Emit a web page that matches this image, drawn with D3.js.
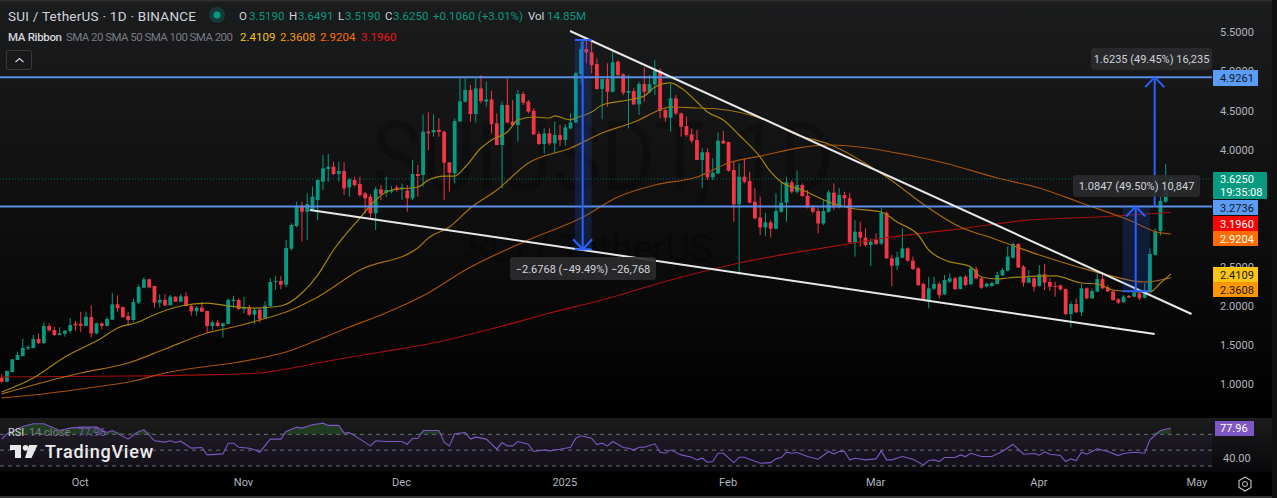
<!DOCTYPE html>
<html><head><meta charset="utf-8">
<script src="https://cdn.jsdelivr.net/npm/d3@7/dist/d3.min.js"></script>
<style>html,body{margin:0;padding:0;background:#000;overflow:hidden}svg{display:block}text{font-family:"Roboto","Liberation Sans",sans-serif}</style>
</head><body><div id="chart"></div>
<script>
// daily candles [open, high, low, close], first one is 2024-09-16
const candlesSep=[[1.083,1.130,1.019,1.032],[1.032,1.177,1.024,1.169],[1.156,1.322,1.152,1.318],[1.309,1.416,1.309,1.373],[1.360,1.582,1.352,1.463],[1.458,1.501,1.437,1.475],[1.463,1.629,1.458,1.578],[1.578,1.650,1.514,1.527],[1.527,1.791,1.514,1.744],[1.744,1.778,1.672,1.689],[1.693,1.736,1.616,1.629],[1.629,1.727,1.629,1.650],[1.646,1.693,1.608,1.684],[1.680,1.846,1.650,1.757],[1.774,1.812,1.684,1.753]];
const candlesOct=[[1.774,1.927,1.667,1.748],[1.744,1.927,1.744,1.863],[1.859,2.008,1.595,1.650],[1.650,1.787,1.638,1.778],[1.778,1.791,1.701,1.744],[1.744,1.863,1.744,1.834],[1.825,2.162,1.821,2.021],[2.021,2.136,1.927,1.974],[1.987,1.991,1.855,1.855],[1.872,1.927,1.748,1.821],[1.821,2.094,1.799,2.051],[2.043,2.277,2.025,2.243],[2.234,2.367,2.226,2.341],[2.341,2.349,2.226,2.239],[2.256,2.260,1.979,2.043],[2.043,2.153,1.979,2.077],[2.077,2.153,2.004,2.008],[2.008,2.141,2.008,2.119],[2.119,2.124,2.055,2.055],[2.055,2.153,2.051,2.124],[2.124,2.175,2.000,2.000],[2.000,2.013,1.876,1.932],[1.932,2.000,1.876,1.979],[1.979,2.051,1.923,1.927],[1.936,1.940,1.650,1.744],[1.744,1.812,1.693,1.791],[1.791,1.821,1.736,1.744],[1.744,1.787,1.595,1.778],[1.770,2.098,1.770,2.077],[2.064,2.132,1.970,2.081],[2.077,2.098,1.949,1.961]];
const candlesNov=[[1.961,2.111,1.906,1.983],[1.983,2.013,1.872,1.889],[1.889,1.970,1.770,1.949],[1.953,1.970,1.787,1.829],[1.838,2.060,1.834,2.004],[2.000,2.354,1.991,2.307],[2.307,2.384,2.204,2.320],[2.320,2.384,2.213,2.273],[2.273,2.844,2.239,2.742],[2.733,3.057,2.708,3.036],[3.023,3.334,3.006,3.279],[3.279,3.334,2.827,3.206],[3.206,3.441,2.844,3.304],[3.236,3.526,3.219,3.398],[3.355,3.620,3.100,3.611],[3.590,3.931,3.483,3.760],[3.752,3.943,3.590,3.781],[3.781,3.845,3.675,3.688],[3.688,3.845,3.590,3.726],[3.726,3.837,3.419,3.504],[3.517,3.632,3.398,3.620],[3.611,3.654,3.526,3.547],[3.560,3.654,3.398,3.419],[3.440,3.462,3.185,3.377],[3.398,3.432,3.099,3.185],[3.185,3.526,2.972,3.492],[3.492,3.547,3.355,3.432],[3.449,3.654,3.398,3.483],[3.462,3.534,3.440,3.483],[3.517,3.547,3.462,3.483]];
const candlesDec=[[3.492,3.568,3.355,3.517],[3.475,3.547,3.206,3.377],[3.377,3.867,3.355,3.688],[3.688,3.803,3.398,3.662],[3.675,4.451,3.526,4.229],[4.229,4.476,3.995,4.208],[4.220,4.451,4.165,4.250],[4.250,4.399,4.165,4.225],[4.229,4.240,3.355,3.832],[3.837,3.840,3.461,3.705],[3.696,4.399,3.568,4.365],[4.361,4.911,4.350,4.617],[4.613,4.911,4.600,4.762],[4.762,4.826,4.357,4.455],[4.455,4.911,4.344,4.783],[4.783,4.954,4.591,4.621],[4.613,4.868,4.549,4.642],[4.642,4.753,4.208,4.327],[4.335,4.463,4.058,4.058],[4.058,4.613,3.504,4.570],[4.570,4.911,4.335,4.348],[4.357,4.634,4.293,4.314],[4.314,4.762,4.101,4.711],[4.711,4.740,4.570,4.600],[4.613,4.634,4.463,4.485],[4.497,4.527,4.186,4.195],[4.199,4.229,4.058,4.071],[4.071,4.271,3.952,4.208],[4.208,4.271,4.058,4.080],[4.080,4.357,3.952,4.186],[4.186,4.314,4.046,4.122]];
const candlesJan=[[4.122,4.327,4.046,4.284],[4.271,4.463,4.259,4.348],[4.348,4.996,4.335,4.975],[4.966,5.380,4.847,5.286],[5.286,5.401,5.103,5.243],[5.243,5.380,4.975,5.081],[5.094,5.167,4.770,4.775],[4.775,4.902,4.387,4.902],[4.902,5.103,4.549,4.740],[4.740,5.252,4.730,5.116],[5.124,5.145,4.911,4.954],[4.962,4.975,4.698,4.728],[4.728,4.954,4.271,4.749],[4.749,4.783,4.570,4.578],[4.578,4.868,4.442,4.838],[4.838,5.052,4.613,4.740],[4.736,4.954,4.719,4.838],[4.834,5.145,4.698,5.009],[5.009,5.039,4.399,4.497],[4.506,4.527,4.357,4.408],[4.408,4.847,4.229,4.655],[4.655,4.698,4.442,4.463],[4.463,4.472,4.165,4.293],[4.301,4.421,4.165,4.186],[4.195,4.271,4.080,4.114],[4.122,4.250,3.867,3.867],[3.867,4.016,3.504,3.965],[3.965,4.016,3.611,3.645],[3.645,3.888,3.611,3.705],[3.696,4.216,3.687,4.114],[4.114,4.237,4.071,4.080]];
const candlesFeb=[[4.097,4.101,3.717,3.730],[3.739,3.845,3.078,3.300],[3.300,3.824,2.396,3.653],[3.653,3.888,3.568,3.589],[3.598,3.717,3.312,3.321],[3.334,3.504,3.108,3.121],[3.133,3.398,2.907,3.005],[3.005,3.193,2.895,3.069],[3.069,3.099,2.877,2.988],[2.988,3.440,2.980,3.214],[3.206,3.577,3.193,3.321],[3.321,3.653,3.078,3.581],[3.581,3.611,3.440,3.461],[3.461,3.730,3.440,3.547],[3.547,3.568,3.398,3.406],[3.410,3.483,3.248,3.261],[3.261,3.291,3.184,3.206],[3.214,3.248,2.929,3.056],[3.056,3.355,3.035,3.214],[3.206,3.483,3.193,3.453],[3.449,3.568,3.227,3.262],[3.262,3.505,3.249,3.419],[3.419,3.462,3.279,3.377],[3.377,3.449,2.810,2.814],[2.814,3.100,2.631,2.950],[2.950,3.078,2.759,2.874],[2.874,2.993,2.759,2.780],[2.780,2.865,2.511,2.822]];
const candlesMar=[[2.844,2.929,2.780,2.793],[2.801,3.249,2.780,3.193],[3.193,3.206,2.601,2.609],[2.609,2.652,2.256,2.516],[2.516,2.695,2.460,2.622],[2.618,2.993,2.609,2.737],[2.737,2.750,2.567,2.580],[2.580,2.631,2.460,2.473],[2.481,2.503,2.256,2.268],[2.281,2.298,2.068,2.076],[2.076,2.375,1.970,2.226],[2.221,2.375,2.204,2.281],[2.281,2.311,2.098,2.140],[2.149,2.396,2.140,2.332],[2.311,2.417,2.298,2.354],[2.354,2.375,2.204,2.217],[2.217,2.383,2.213,2.375],[2.375,2.396,2.256,2.268],[2.277,2.503,2.268,2.481],[2.469,2.503,2.341,2.354],[2.354,2.375,2.217,2.234],[2.247,2.298,2.238,2.285],[2.256,2.311,2.247,2.294],[2.281,2.439,2.277,2.396],[2.392,2.481,2.383,2.460],[2.451,2.758,2.443,2.631],[2.618,2.810,2.609,2.793],[2.793,2.801,2.486,2.494],[2.503,2.524,2.247,2.298],[2.298,2.460,2.290,2.362],[2.354,2.375,2.187,2.247]];
const candlesApr=[[2.256,2.524,2.247,2.405],[2.405,2.537,2.204,2.298],[2.307,2.354,2.196,2.247],[2.256,2.311,2.119,2.247],[2.264,2.273,2.196,2.213],[2.217,2.226,1.885,1.897],[1.897,2.055,1.727,2.025],[2.025,2.098,1.914,1.919],[1.919,2.281,1.872,2.226],[2.226,2.238,2.085,2.098],[2.098,2.226,2.093,2.192],[2.183,2.417,2.175,2.345],[2.345,2.426,2.213,2.226],[2.238,2.268,2.179,2.187],[2.187,2.204,2.068,2.076],[2.085,2.098,2.025,2.042],[2.047,2.140,2.042,2.119],[2.128,2.140,2.102,2.111],[2.119,2.213,2.111,2.170],[2.162,2.183,2.076,2.098],[2.106,2.290,2.098,2.196],[2.183,2.737,2.175,2.665],[2.656,2.993,2.643,2.959],[2.959,3.398,2.899,3.343],[3.334,3.816,3.321,3.505],[3.519,3.6491,3.519,3.625]];

// moving averages, read at the listed candle numbers
const sma20Days=[0,6,12,19,22,26,28,34,39,43,48,53,57,60,63,68,71,74,79,81,84,86,88,91,93,96,98,101,104,105,108,109,112,114,119,122,124,127,129,132,134,137,140,144,146,148,152,157,161,167,170,174,176,179,184,186,189,191,200,205,208,211,216,218,220,222];
const sma20Vals=[0.90,1.079,1.348,1.591,1.719,1.795,1.859,2.000,2.038,2.000,1.974,2.000,2.166,2.396,2.716,3.125,3.356,3.483,3.522,3.611,3.662,3.662,3.778,4.020,4.123,4.225,4.379,4.417,4.404,4.430,4.379,4.404,4.481,4.570,4.634,4.685,4.801,4.852,4.788,4.609,4.481,4.379,4.187,3.905,3.714,3.586,3.483,3.330,3.253,3.202,3.074,2.908,2.716,2.588,2.499,2.371,2.345,2.358,2.384,2.294,2.281,2.205,2.179,2.179,2.294,2.4109];
const sma50Days=[0,6,15,24,31,39,44,49,54,60,68,79,81,85,89,94,100,108,114,121,124,127,132,136,145,151,157,168,176,182,188,197,205,210,217,222];
const sma50Vals=[0.875,0.99,1.143,1.271,1.450,1.655,1.731,1.821,1.923,2.115,2.460,2.742,2.870,3.010,3.253,3.483,3.829,4.020,4.212,4.379,4.481,4.545,4.532,4.519,4.379,4.187,4.072,3.650,3.253,3.010,2.870,2.652,2.486,2.396,2.307,2.3608];
const sma100Days=[0,6,15,25,31,38,44,50,54,60,66,72,81,88,100,110,117,124,132,138,145,151,157,172,179,189,197,205,214,220,222];
const sma100Vals=[0.824,0.862,0.939,1.041,1.143,1.220,1.271,1.348,1.412,1.565,1.731,1.885,2.166,2.460,2.844,3.125,3.394,3.547,3.650,3.829,3.931,4.020,4.059,3.931,3.829,3.637,3.509,3.317,3.100,2.934,2.9204];
const sma200Days=[0,24,38,49,53,62,72,81,95,104,114,127,140,157,169,183,195,208,222];
const sma200Vals=[1.092,1.105,1.118,1.143,1.182,1.297,1.412,1.514,1.744,1.910,2.077,2.332,2.550,2.754,2.882,2.997,3.100,3.138,3.196];

// RSI
const rsiDays=[0,1,4,6,8,11,13,15,18,20,21,24,26,27,29,31,32,33,34,36,38,39,42,43,44,45,47,48,49,51,53,54,56,57,59,61,62,64,65,66,68,70,71,73,76,77,78,79,80,83,84,85,86,88,89,90,92,94,95,96,97,98,100,101,103,104,106,108,109,110,112,113,114,115,116,118,119,120,121,122,124,125,126,127,129,131,132,133,134,135,136,137,139,140,141,144,146,147,148,149,150,151,153,155,157,158,159,160,161,162,164,166,167,168,169,171,173,175,176,177,178,179,181,182,183,184,186,188,190,192,194,196,197,198,199,201,202,203,204,205,206,208,210,212,213,215,217,218,220,222];
const rsiVals=[63.9,70.6,79.9,83.3,83.3,74.8,77.8,79.1,79.1,72.3,74.8,63.9,73.6,75.7,61.8,60.1,61.8,59.6,61.3,52.5,53.3,44,45.3,58.8,58.8,53.7,52.5,50.4,47.4,63.9,63.9,73.6,79.1,77.8,82,84.1,81.2,81.2,71.5,72.3,63.9,55.4,61.8,60.9,60.9,57.5,64.7,64.7,74.8,74.8,60.1,55.4,70.6,72.3,63.9,66.4,63.9,51.2,59.6,55.4,55.4,60.9,57.5,48.3,50.4,49.1,51.2,53.7,65.1,68.1,65.1,57.1,58.8,55.4,60.9,53.3,52.5,50.4,53.7,53.7,58,47.4,46.1,50.4,44,41.1,37.7,39.8,34.7,35.6,46.1,46.1,34.3,41.1,41.1,33.5,34.3,39,40.7,47.4,46.1,47,41.9,38.5,48.3,45.3,48.3,48.3,37.7,39.8,37.7,39,49.1,37.7,37.7,41.9,38.5,31.4,36.9,37.7,35.6,40.7,40.7,44,41.9,46.1,41.9,41.9,48.3,57.5,44.9,45.7,43.6,47.8,44.9,43.2,35.6,39,36.9,47.4,44.9,51.6,48.3,43.2,45.7,47.4,46.1,63,74.8,77.96];
const rsiLevels=[70,50,30];

// axes (3.5 and 3.0 are covered by the price badges in the picture)
const priceTicks=[5.5,5,4.5,4,2.5,2,1.5,1];
const timeLabels=["Oct","Nov","Dec","2025","Feb","Mar","Apr","May"];
const timeDates=["2024-10-01","2024-11-01","2024-12-01","2025-01-01","2025-02-01","2025-03-01","2025-04-01","2025-05-01"];
const firstDate="2024-09-16";

// drawings
const levelPrices=[4.9261,3.2736];
const upperTrend=[[107.9,5.517],[225.9,1.898]];
const lowerTrend=[[58.5,3.228],[218.9,1.642]];
const legendOHLC=[["O","3.5190",239,249],["H","3.6491",289,298],["L","3.5190",338,345],["C","3.6250",385,393]];
const ribbonVals=["2.4109","2.3608","2.9204","3.1960"];
const ribbonColors=["#f5c211","#ff9800","#ff6d00","#f01515"];

const W=1277,H=498;
const svg=d3.select("#chart").append("svg").attr("width",W).attr("height",H);
const defs=svg.append("defs");
const g1=defs.append("linearGradient").attr("id","bg").attr("x1",0).attr("x2",0).attr("y1",0).attr("y2",1);
g1.append("stop").attr("offset",0).attr("stop-color","#1b1c1d");
g1.append("stop").attr("offset",.5).attr("stop-color","#0f0f10");
g1.append("stop").attr("offset",1).attr("stop-color","#000");
const g2=defs.append("linearGradient").attr("id","bg2").attr("x1",0).attr("x2",0).attr("y1",0).attr("y2",1);
g2.append("stop").attr("offset",0).attr("stop-color","#1c1c1c");
g2.append("stop").attr("offset",1).attr("stop-color","#08080c");

const candles=[].concat(candlesSep,candlesOct,candlesNov,candlesDec,candlesJan,candlesFeb,candlesMar,candlesApr);
const x=d3.scaleLinear().domain([0,candles.length-1]).range([1.7,1171]);
const y=d3.scaleLinear().domain([1,5.5]).range([384.2,32.3]);
const r=d3.scaleLinear().domain([30,70]).range([466,434.3]);
const plotR=1212;

svg.append("rect").attr("width",W).attr("height",418).attr("fill","url(#bg)");
svg.append("rect").attr("y",418).attr("width",W).attr("height",54).attr("fill","url(#bg2)");
svg.append("rect").attr("y",472).attr("width",W).attr("height",26).attr("fill","#000");

// watermark
svg.append("text").attr("x",372).attr("y",190).attr("font-size",96).attr("fill","#000").attr("fill-opacity",.24).attr("textLength",462).attr("lengthAdjust","spacingAndGlyphs").text("SUIUSDT, 1D");
svg.append("text").attr("x",467).attr("y",262).attr("font-size",38).attr("fill","#000").attr("fill-opacity",.28).text("SUI / TetherUS");

// RSI pane
svg.append("rect").attr("x",0).attr("y",r(70)).attr("width",plotR).attr("height",r(30)-r(70)).attr("fill","#7e57c2").attr("fill-opacity",.08);
svg.append("g").selectAll("line").data(rsiLevels).join("line")
 .attr("x1",0).attr("x2",plotR).attr("y1",d=>r(d)).attr("y2",d=>r(d))
 .attr("stroke","#787b86").attr("stroke-opacity",.85).attr("stroke-dasharray","4 4").attr("stroke-width",1);
const rsiPts=rsiDays.map((d,i)=>[d,rsiVals[i]]);
svg.append("path").datum(rsiPts).attr("fill","#2e7d32").attr("fill-opacity",.35)
 .attr("d",d3.area().x(d=>x(d[0])).y0(r(70)).y1(d=>r(Math.max(70,d[1]))));
svg.append("path").datum(rsiPts).attr("fill","none").attr("stroke","#7e57c2").attr("stroke-width",1.1)
 .attr("d",d3.line().x(d=>x(d[0])).y(d=>r(d[1])));

// last price dotted line
svg.append("line").attr("x1",0).attr("x2",plotR).attr("y1",y(3.625)).attr("y2",y(3.625))
 .attr("stroke","#089981").attr("stroke-opacity",.7).attr("stroke-dasharray","1 2");

// candles
const up="#089981",dn="#f23645";
const cg=svg.append("g");
cg.selectAll("line").data(candles).join("line")
 .attr("x1",(d,i)=>x(i)).attr("x2",(d,i)=>x(i)).attr("y1",d=>y(d[1])).attr("y2",d=>y(d[2]))
 .attr("stroke",d=>d[3]>=d[0]?up:dn).attr("stroke-width",1);
cg.selectAll("rect").data(candles).join("rect")
 .attr("x",(d,i)=>x(i)-1.9).attr("width",3.8)
 .attr("y",d=>y(Math.max(d[0],d[3])))
 .attr("height",d=>Math.max(1,Math.abs(y(d[0])-y(d[3]))))
 .attr("fill",d=>d[3]>=d[0]?up:dn);

// moving averages
const maLine=d3.line().x(d=>x(d[0])).y(d=>y(d[1])).curve(d3.curveMonotoneX);
[[sma200Days,sma200Vals,"#a50f0f"],[sma100Days,sma100Vals,"#a85208"],[sma50Days,sma50Vals,"#a87008"],[sma20Days,sma20Vals,"#a2850c"]]
.forEach(([ds,vs,c])=>{
 svg.append("path").datum(ds.map((d,i)=>[d,vs[i]])).attr("fill","none").attr("stroke",c).attr("stroke-width",1.2).attr("d",maLine);
});

// horizontal levels
svg.append("g").selectAll("line").data(levelPrices).join("line")
 .attr("x1",0).attr("x2",plotR).attr("y1",d=>y(d)).attr("y2",d=>y(d)).attr("stroke","#5b8fe6").attr("stroke-width",2);

// trendlines
[upperTrend,lowerTrend].forEach(t=>{
 svg.append("line").attr("x1",x(t[0][0])).attr("y1",y(t[0][1])).attr("x2",x(t[1][0])).attr("y2",y(t[1][1]))
  .attr("stroke","#e8e8e8").attr("stroke-width",2);
});

// measure tools
const blue="#2962ff";
function measure(cfg){
 const g=svg.append("g");
 if(cfg.band){
  g.append("rect").attr("x",x(cfg.band[0])).attr("width",x(cfg.band[1])-x(cfg.band[0]))
   .attr("y",y(Math.max(cfg.from,cfg.to))).attr("height",Math.abs(y(cfg.from)-y(cfg.to)))
   .attr("fill",blue).attr("fill-opacity",.18);
  (cfg.bars||[]).forEach(p=>g.append("line").attr("x1",x(cfg.band[0])).attr("x2",x(cfg.band[1])).attr("y1",y(p)).attr("y2",y(p)).attr("stroke",blue).attr("stroke-width",2));
 }
 const ax=x(cfg.day),ty=y(cfg.to),dir=cfg.to>cfg.from?1:-1;
 g.append("line").attr("x1",ax).attr("x2",ax).attr("y1",y(cfg.from)).attr("y2",ty).attr("stroke",blue).attr("stroke-width",2);
 g.append("path").attr("fill","none").attr("stroke",blue).attr("stroke-width",2)
  .attr("d",d3.line()([[ax-9.5,ty+dir*10],[ax,ty],[ax+9.5,ty+dir*10]]));
 g.append("rect").attr("x",cfg.box[0]).attr("y",cfg.box[1]).attr("width",cfg.box[2]).attr("height",cfg.box[3]).attr("rx",3).attr("fill","#2b2b2d").attr("fill-opacity",.9);
 g.append("text").attr("x",cfg.box[0]+cfg.box[2]/2).attr("y",cfg.box[1]+cfg.box[3]/2+4).attr("text-anchor","middle").attr("font-size",11).attr("fill","#d1d4dc").text(cfg.label);
}
measure({day:110.3,from:5.402,to:2.725,band:[108.8,112],bars:[5.402,2.725],box:[510,257,146,23],label:"−2.6768 (−49.49%) −26,768"});
measure({day:218.9,from:3.2736,to:4.9261,box:[1091,48,121,22],label:"1.6235 (49.45%) 16,235"});
measure({day:215.3,from:2.1889,to:3.2736,band:[212.8,218],bars:[2.1889],box:[1073,175,127,22],label:"1.0847 (49.50%) 10,847"});

// price axis
const axisY=d3.axisRight(y).tickValues(priceTicks).tickFormat(d3.format(".4f")).tickSize(0).tickPadding(0);
const gy=svg.append("g").attr("transform","translate(1220,0)").call(axisY);
gy.select(".domain").remove();
gy.selectAll("text").attr("fill","#b2b5be").attr("font-size",11).attr("font-family","Roboto,'Liberation Sans',sans-serif");

// price badges
const badges=[[4.9261,"#5b9cf6","#131722","4.9261",70,16,45],[3.2736,"#5b9cf6","#131722","3.2736",200,15,45],[3.196,"#ff0000","#fff","3.1960",216,15,45],[2.9204,"#ff6d00","#fff","2.9204",231,15,45],[2.4109,"#fbc514","#131722","2.4109",267,15,45],[2.3608,"#ff9800","#131722","2.3608",282,15,45]];
svg.append("g").selectAll("g").data(badges).join("g").each(function(b){
 const s=d3.select(this);
 s.append("rect").attr("x",1213).attr("y",b[4]).attr("width",b[6]).attr("height",b[5]).attr("fill",b[1]);
 s.append("text").attr("x",1220).attr("y",b[4]+b[5]/2+4).attr("font-size",11).attr("fill",b[2]).text(b[3]);
});
svg.append("rect").attr("x",1213).attr("y",172).attr("width",54).attr("height",27).attr("rx",1).attr("fill","#089981");
svg.append("text").attr("x",1220).attr("y",183).attr("font-size",11).attr("fill","#fff").text("3.6250");
svg.append("text").attr("x",1220).attr("y",196).attr("font-size",11).attr("fill","#fff").text("19:35:08");

// RSI badge
svg.append("rect").attr("x",1215).attr("y",421).attr("width",39).attr("height",15).attr("fill","#7e57c2");
svg.append("text").attr("x",1220).attr("y",432).attr("font-size",11).attr("fill","#fff").text("77.96");
svg.append("text").attr("x",1223).attr("y",462).attr("font-size",11).attr("fill","#b2b5be").text("40.00");

// time axis
const tickDays=timeDates.map(s=>d3.utcDay.count(new Date(firstDate),new Date(s)));
const axisX=d3.axisBottom(x).tickValues(tickDays).tickFormat((d,i)=>timeLabels[i]).tickSize(0).tickPadding(0);
const gx=svg.append("g").attr("transform","translate(-1,478)").call(axisX);
gx.select(".domain").remove();
gx.selectAll("text").attr("fill","#b2b5be").attr("font-size",11).attr("font-family","Roboto,'Liberation Sans',sans-serif");

// settings hexagon
svg.append("path").attr("d",d3.line()([[1245,477],[1251,480.5],[1251,487.5],[1245,491],[1239,487.5],[1239,480.5],[1245,477]])).attr("fill","none").attr("stroke","#c8c8c8").attr("stroke-width",1.1);
svg.append("circle").attr("cx",1245).attr("cy",484).attr("r",2.5).attr("fill","none").attr("stroke","#c8c8c8");

// borders
svg.append("rect").attr("y",0).attr("width",W).attr("height",1.5).attr("fill","#2e2e2e");
svg.append("rect").attr("y",496).attr("width",W).attr("height",2).attr("fill","#333");
svg.append("rect").attr("x",1272).attr("width",5).attr("height",H).attr("fill","#111");

// header legend
svg.append("text").attr("x",8).attr("y",21).attr("font-size",13.5).attr("fill","#d1d4dc").attr("textLength",188).text("SUI / TetherUS · 1D · BINANCE");
svg.append("circle").attr("cx",217).attr("cy",15).attr("r",8).attr("fill","#089981").attr("fill-opacity",.25);
svg.append("circle").attr("cx",217).attr("cy",15).attr("r",3.5).attr("fill","#089981");
legendOHLC.forEach(o=>{
 svg.append("text").attr("x",o[2]).attr("y",20).attr("font-size",11.5).attr("fill","#d1d4dc").text(o[0]);
 svg.append("text").attr("x",o[3]).attr("y",20).attr("font-size",11.5).attr("fill","#089981").text(o[1]);
});
svg.append("text").attr("x",433).attr("y",20).attr("font-size",11.5).attr("fill","#089981").text("+0.1060 (+3.01%)");
svg.append("text").attr("x",528).attr("y",20).attr("font-size",11.5).attr("fill","#d1d4dc").text("Vol");
svg.append("text").attr("x",547).attr("y",20).attr("font-size",11.5).attr("fill","#089981").text("14.85M");
svg.append("text").attr("x",8).attr("y",41).attr("font-size",11.5).attr("font-weight",500).attr("fill","#d1d4dc").attr("textLength",54).text("MA Ribbon");
svg.append("text").attr("x",66).attr("y",41).attr("font-size",11.5).attr("fill","#787b86").attr("textLength",167).text("SMA 20 SMA 50 SMA 100 SMA 200");
ribbonVals.forEach((v,i)=>svg.append("text").attr("x",[240,280,320,361][i]).attr("y",41).attr("font-size",11.5).attr("fill",ribbonColors[i]).text(v));
svg.append("rect").attr("x",6.5).attr("y",50.5).attr("width",25).attr("height",19).attr("rx",2).attr("fill","none").attr("stroke","#3a3a3d");
svg.append("path").attr("d",d3.line()([[15.5,62],[19.5,58.5],[23.5,62]])).attr("fill","none").attr("stroke","#d1d4dc").attr("stroke-width",1.2);

// RSI legend
svg.append("text").attr("x",8).attr("y",436).attr("font-size",11).attr("fill","#d1d4dc").text("RSI");
svg.append("text").attr("x",29).attr("y",436).attr("font-size",11).attr("fill","#787b86").text("14 close");
svg.append("text").attr("x",78).attr("y",436).attr("font-size",11).attr("fill","#7e57c2").text("77.96");

// TradingView mark
svg.append("path").attr("fill","#e8e8e8").attr("d","M10 445h11v13h-6v-8h-5zM29 445h8.5l-6 13h-6.5z");
svg.append("circle").attr("cx",25.5).attr("cy",447.8).attr("r",2.8).attr("fill","#e8e8e8");
svg.append("text").attr("x",45).attr("y",458).attr("font-size",18).attr("font-weight",500).attr("fill","#ececec").attr("textLength",108).text("TradingView");
</script></body></html>
